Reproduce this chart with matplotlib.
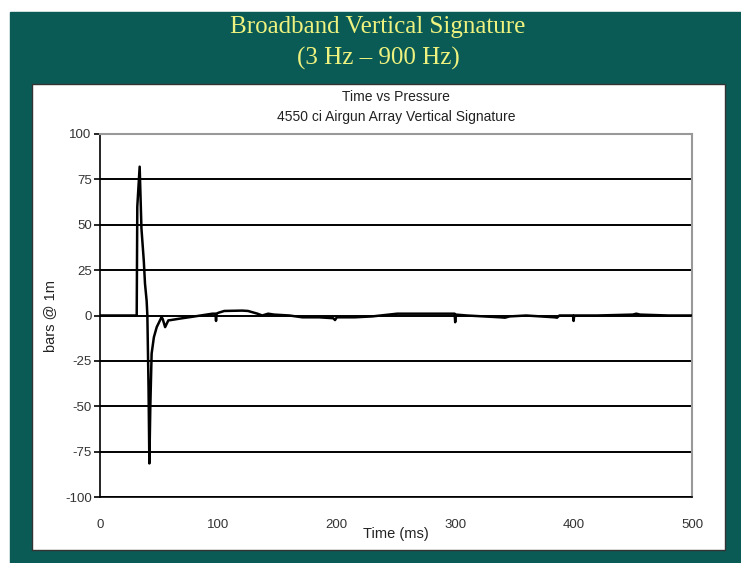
import matplotlib
matplotlib.use("Agg")
import matplotlib.pyplot as plt
from matplotlib.patches import Rectangle

plt.rcParams["axes.unicode_minus"] = False

# airgun signature (time in ms, pressure in bar @ 1m)
time_ms = [0, 31, 31.5, 33.5, 35, 37, 38, 39.4, 40, 41, 41.7, 42.5, 43.6, 45.5,
           47.9, 52, 53, 55, 57.7, 60, 67.6, 80, 95, 97.5, 98, 98.5, 100, 105,
           120, 125, 133, 137, 142, 147, 160, 171, 185, 197, 198.5, 200, 215,
           230, 251, 270, 296, 299.5, 300, 300.5, 310, 338, 342, 346, 360, 384,
           386, 388, 399.5, 400, 400.5, 420, 450, 453, 456, 480, 500]
pressure = [0, 0, 60, 82, 48, 30, 17.6, 8, 0, -40, -81.5, -50, -21, -12,
            -6.4, -0.9, -2, -6.4, -2.7, -2.5, -1.7, -0.5, 1, 1, -3, 1, 1.5, 2.5,
            2.7, 2.5, 1, 0, 1, 0.5, 0, -1, -1, -1.5, -2.5, -1, -1,
            -0.5, 1, 1, 1, 1, -3.7, 0.5, 0, -1, -1.2, -0.5, 0, -1,
            -1.2, 0, 0, -3, 0, 0, 0.5, 1, 0.5, 0, 0]

x_ticks = [0, 100, 200, 300, 400, 500]
y_ticks = [100, 75, 50, 25, 0, -25, -50, -75, -100]

W, H = 741, 563
teal = "#0a5a56"

fig = plt.figure(figsize=(W / 100, H / 100), dpi=100)
fig.patch.set_facecolor("white")

# teal slide background and the white chart card
fig.patches.append(Rectangle((10 / W, 0), 1 - 10 / W, 1 - 12 / H,
                             transform=fig.transFigure, color=teal, zorder=0))
fig.patches.append(Rectangle((32 / W, 1 - 550 / H), (725 - 32) / W, (550 - 84) / H,
                             transform=fig.transFigure, facecolor="white",
                             edgecolor="#333333", lw=1.0, zorder=0))

fig.text(378 / W, 1 - 27 / H, "Broadband Vertical Signature", ha="center", va="center",
         color="#eef27e", fontsize=18, family="Liberation Serif")
fig.text(378 / W, 1 - 58 / H, "(3 Hz \u2013 900 Hz)", ha="center", va="center",
         color="#eef27e", fontsize=18, family="Liberation Serif")

ax = fig.add_axes([100 / W, 1 - 497 / H, 592 / W, 363 / H])
ax.set_zorder(5)
ax.plot(time_ms, pressure, color="black", lw=1.8, zorder=3)

ax.set_xlim(0, 500)
ax.set_ylim(-100, 100)
ax.set_xticks(x_ticks)
ax.set_yticks(y_ticks)
for y in y_ticks:
    ax.axhline(y, color="black", lw=1.4, zorder=1)

for s in ["top", "right"]:
    ax.spines[s].set_color("#999999")
    ax.spines[s].set_linewidth(1.5)
for s in ["left", "bottom"]:
    ax.spines[s].set_color("black")
    ax.spines[s].set_linewidth(1.2)

ax.tick_params(axis="x", length=0, pad=16, labelsize=9.5, labelcolor="#333333")
ax.tick_params(axis="y", length=4, width=1.2, pad=2, labelsize=9.5, labelcolor="#333333")
for lab in ax.get_xticklabels() + ax.get_yticklabels():
    lab.set_family("Liberation Sans")

ax.set_xlabel("Time (ms)", fontsize=10.5, family="Liberation Sans", color="#222222",
              labelpad=-3)
ax.set_ylabel("bars @ 1m", fontsize=10.5, family="Liberation Sans", color="#222222",
              labelpad=6)

fig.text(396 / W, 1 - 97 / H, "Time vs Pressure", ha="center", va="center",
         fontsize=10, family="Liberation Sans", color="#222222")
fig.text(396 / W, 1 - 117 / H, "4550 ci Airgun Array Vertical Signature", ha="center",
         va="center", fontsize=10, family="Liberation Sans", color="#222222")

fig.savefig("out.png", dpi=100)
